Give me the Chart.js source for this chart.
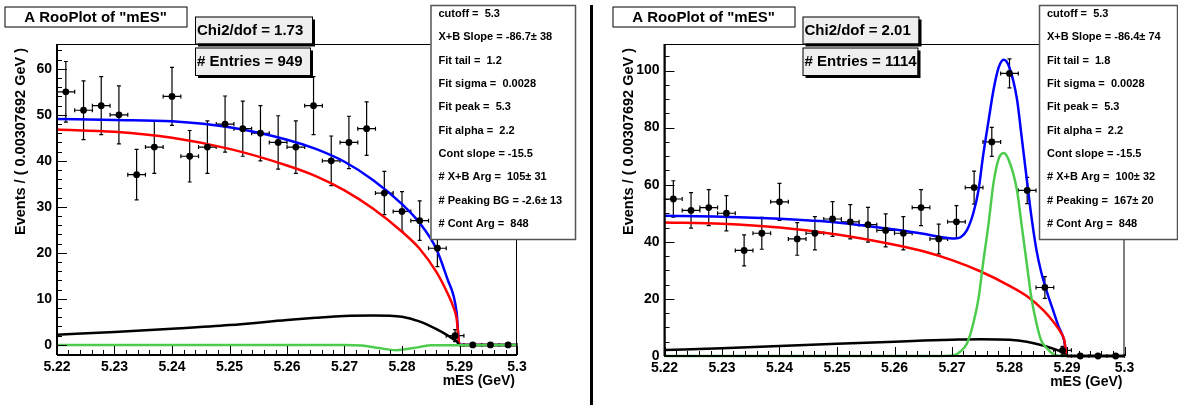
<!DOCTYPE html>
<html>
<head>
<meta charset="utf-8">
<script src="https://cdn.jsdelivr.net/npm/chart.js@4.4.0/dist/chart.umd.min.js"></script>
<style>
  body { margin: 0; background: #fff; width: 1178px; height: 405px; overflow: hidden; position: relative; }
  canvas { position: absolute; top: 0; }
  #chartL { left: 0; }
  #chartR { left: 590px; }
</style>
</head>
<body>
<canvas id="chartL" width="590" height="405"></canvas>
<canvas id="chartR" width="588" height="405"></canvas>
<script>
// binning of the mES histogram
const binStart = 5.22;
const binWidth = 0.00307692;

const xTickLabels = ['5.22', '5.23', '5.24', '5.25', '5.26', '5.27', '5.28', '5.29', '5.3'];
const yTickLabelsL = ['0', '10', '20', '30', '40', '50', '60'];
const yTickLabelsR = ['0', '20', '40', '60', '80', '100'];

// left plot: data points
const countsL = [55, 51, 52, 50, 37, 43, 54, 41, 43, 48, 47, 46, 44, 43, 52, 40, 44, 47, 33, 29, 27, 21, 2, 0, 0, 0];
const errorsL = [6.6, 6.4, 6.3, 6.3, 5.5, 5.7, 6.3, 5.6, 5.7, 6.1, 6.0, 6.0, 5.8, 5.7, 6.3, 5.4, 5.7, 5.8, 4.7, 4.3, 4.3, 4.0, 1.3, 0, 0, 0];

// left plot: fitted curves
const curveXL = [5.22, 5.23, 5.24, 5.25, 5.26, 5.265, 5.27, 5.275, 5.28, 5.283, 5.286, 5.288, 5.289, 5.2895, 5.29, 5.3];
const blueL  = [49.1, 48.9, 48.6, 47.3, 44.6, 42.6, 39.8, 35.8, 30.6, 26.6, 20.8, 14.0, 10.5, 7.0, 0, 0];
const redL   = [46.8, 46.3, 45.0, 42.6, 39.0, 36.7, 33.6, 29.6, 24.6, 21.0, 15.8, 11.0, 8.0, 5.8, 0, 0];
const blackL = [2.2, 2.8, 3.5, 4.3, 5.4, 5.9, 6.3, 6.4, 6.1, 5.1, 3.4, 2.0, 1.2, 0.8, 0, 0];
const greenXL = [5.22, 5.27, 5.273, 5.276, 5.279, 5.282, 5.285, 5.3];
const greenL  = [0, 0, -0.15, -0.7, -1.15, -0.7, -0.1, 0];

// right plot: data points
const countsR = [55, 51, 52, 50, 37, 43, 54, 41, 43, 48, 47, 46, 44, 43, 52, 41, 47, 59, 75, 99, 58, 24, 2, 0, 0, 0];
const errorsR = [6.4, 6.2, 6.3, 6.2, 5.4, 5.6, 6.5, 5.7, 5.8, 6.1, 6.0, 6.1, 5.8, 5.8, 6.3, 5.2, 5.7, 5.8, 5.1, 5.1, 4.6, 3.8, 1.4, 0, 0, 0];

// right plot: fitted curves
const curveXR = [5.22, 5.23, 5.24, 5.25, 5.26, 5.265, 5.27, 5.275, 5.28, 5.283, 5.286, 5.288, 5.289, 5.2895, 5.29, 5.3];
const redR   = [46.8, 46.3, 45.0, 42.6, 39.0, 36.7, 33.6, 29.6, 24.6, 21.0, 15.8, 11.0, 8.0, 5.8, 0, 0];
const blackR = [2.1, 2.7, 3.5, 4.3, 5.0, 5.4, 5.7, 5.9, 5.7, 5.0, 3.6, 2.3, 1.5, 1.0, 0, 0];
const blueXR = [5.22, 5.23, 5.24, 5.25, 5.26, 5.265, 5.268, 5.2705, 5.2715, 5.2726, 5.2737, 5.2746, 5.2754, 5.2764,
                5.2772, 5.2781, 5.279, 5.2799, 5.2813, 5.2821, 5.283, 5.2838, 5.2847, 5.2855, 5.2865, 5.2875, 5.2885, 5.2895, 5.29, 5.3];
const blueR  = [49.1, 48.8, 48.1, 46.8, 44.3, 42.8, 41.7, 41.2, 41.6, 44.1, 50.0, 58.0, 70.0, 83.0,
                93.0, 101.0, 103.8, 101.5, 90.0, 77.0, 62.0, 49.0, 37.0, 29.5, 22.5, 16.5, 10.5, 5.5, 0, 0];
const greenXR = [5.22, 5.268, 5.2705, 5.2714, 5.2726, 5.2737, 5.2746, 5.2754, 5.2764, 5.2772, 5.2781, 5.279,
                 5.2799, 5.2813, 5.2821, 5.283, 5.2838, 5.2847, 5.2855, 5.2865, 5.2875, 5.289, 5.3];
const greenR  = [0, 0, 0.4, 1.5, 4.4, 11.4, 20.0, 32.4, 47.0, 60.4, 69.0, 71.1,
                 68.5, 58.1, 46.0, 32.4, 20.5, 11.4, 5.5, 2.7, 0.8, 0, 0];

const paramsL = ['cutoff =  5.3', 'X+B Slope = -86.7\u00b1 38', 'Fit tail =  1.2', 'Fit sigma =  0.0028', 'Fit peak =  5.3',
                 'Fit alpha =  2.2', 'Cont slope = -15.5', '# X+B Arg =  105\u00b1 31', '# Peaking BG = -2.6\u00b1 13', '# Cont Arg =  848'];
const paramsR = ['cutoff =  5.3', 'X+B Slope = -86.4\u00b1 74', 'Fit tail =  1.8', 'Fit sigma =  0.0028', 'Fit peak =  5.3',
                 'Fit alpha =  2.2', 'Cont slope = -15.5', '# X+B Arg =  100\u00b1 32', '# Peaking =  167\u00b1 20', '# Cont Arg =  848'];

const FONT = '"Liberation Sans", Arial, Helvetica, sans-serif';

// ROOT-like frame, ticks, error bars and text boxes
const rooFrame = {
  id: 'rooFrame',
  beforeDatasetsDraw(chart, args, o) {
    const ctx = chart.ctx, xs = chart.scales.x, ys = chart.scales.y;
    ctx.save();
    ctx.strokeStyle = '#000';
    ctx.lineWidth = 1.2;
    o.counts.forEach((c, i) => {
      const xc = binStart + (i + 0.5) * binWidth;
      const px = xs.getPixelForValue(xc);
      const py = ys.getPixelForValue(c);
      const x0 = xs.getPixelForValue(xc - binWidth / 2);
      const x1 = xs.getPixelForValue(xc + binWidth / 2);
      ctx.beginPath();
      ctx.moveTo(x0, py); ctx.lineTo(x1, py);
      ctx.moveTo(x0, py - 2); ctx.lineTo(x0, py + 2);
      ctx.moveTo(x1, py - 2); ctx.lineTo(x1, py + 2);
      const e = o.errors[i];
      if (e > 0) {
        const yt = ys.getPixelForValue(c + e), yb = ys.getPixelForValue(c - e);
        ctx.moveTo(px, yt); ctx.lineTo(px, yb);
        ctx.moveTo(px - 2, yt); ctx.lineTo(px + 2, yt);
        ctx.moveTo(px - 2, yb); ctx.lineTo(px + 2, yb);
      }
      ctx.stroke();
    });
    ctx.restore();
  },
  afterDatasetsDraw(chart, args, o) {
    const ctx = chart.ctx, xs = chart.scales.x, ys = chart.scales.y, a = chart.chartArea;
    ctx.save();
    ctx.strokeStyle = '#000';
    ctx.lineWidth = 1;
    ctx.strokeRect(a.left + 0.5, a.top + 0.5, a.right - a.left - 1, a.bottom - a.top);
    ctx.lineWidth = 2;
    ctx.beginPath();
    ctx.moveTo(a.left, a.top); ctx.lineTo(a.left, a.bottom);
    ctx.moveTo(a.left, a.bottom); ctx.lineTo(a.right, a.bottom);
    ctx.stroke();

    // x ticks
    ctx.lineWidth = 1;
    ctx.beginPath();
    for (let k = 0; k <= 40; k++) {
      const px = Math.round(xs.getPixelForValue(5.22 + k * 0.002)) + 0.5;
      const len = k % 5 === 0 ? 9 : 5;
      ctx.moveTo(px, a.bottom); ctx.lineTo(px, a.bottom - len);
    }
    // y ticks
    for (let v = Math.ceil(o.yMin / o.yMinor) * o.yMinor; v <= o.yMax; v += o.yMinor) {
      const py = Math.round(ys.getPixelForValue(v)) + 0.5;
      const len = Math.abs(v % o.yMajor) < 1e-6 ? 10 : 5;
      ctx.moveTo(a.left, py); ctx.lineTo(a.left + len, py);
    }
    ctx.stroke();

    // tick labels
    ctx.fillStyle = '#000';
    ctx.font = 'bold 14px ' + FONT;
    ctx.textAlign = 'center';
    ctx.textBaseline = 'middle';
    xTickLabels.forEach(t => ctx.fillText(t, xs.getPixelForValue(parseFloat(t)), a.bottom + 12));
    ctx.textAlign = 'right';
    o.yLabels.forEach(t => ctx.fillText(t, a.left - 5, ys.getPixelForValue(parseFloat(t))));

    // axis titles
    ctx.fillText('mES (GeV)', a.right - 2, o.xTitleY);
    ctx.save();
    ctx.font = 'bold 14.5px ' + FONT;
    ctx.translate(o.yTitleX, a.top + 4);
    ctx.rotate(-Math.PI / 2);
    ctx.textAlign = 'right';
    ctx.fillText('Events / ( 0.00307692 GeV )', 0, 0);
    ctx.restore();

    // title box
    const tb = o.titleBox;
    ctx.fillStyle = '#fff';
    ctx.fillRect(tb.x, tb.y, tb.w, tb.h);
    ctx.lineWidth = 1;
    ctx.strokeRect(tb.x + 0.5, tb.y + 0.5, tb.w, tb.h);
    ctx.fillStyle = '#000';
    ctx.font = 'bold 15px ' + FONT;
    ctx.textAlign = 'center';
    ctx.fillText('A RooPlot of "mES"', tb.x + tb.w / 2, tb.y + tb.h / 2 + 1);

    // chi2 / entries boxes with shadow
    [[o.chi2Box, o.chi2Text], [o.entriesBox, o.entriesText]].forEach(([b, txt]) => {
      ctx.fillStyle = '#000';
      ctx.fillRect(b.x + 3, b.y + 3, b.w, b.h);
      ctx.fillStyle = '#efefef';
      ctx.fillRect(b.x, b.y, b.w, b.h);
      ctx.strokeStyle = '#000';
      ctx.strokeRect(b.x + 0.5, b.y + 0.5, b.w, b.h);
      ctx.fillStyle = '#000';
      ctx.font = 'bold 15px ' + FONT;
      ctx.textAlign = 'left';
      ctx.fillText(txt, b.x + 2, b.y + b.h / 2 + 1);
    });

    // parameter box
    const pb = o.paramBox;
    ctx.fillStyle = '#fff';
    ctx.fillRect(pb.x, pb.y, pb.w, pb.h);
    ctx.strokeStyle = '#555';
    ctx.lineWidth = 1.5;
    ctx.strokeRect(pb.x + 0.5, pb.y + 0.5, pb.w, pb.h);
    ctx.fillStyle = '#000';
    ctx.font = 'bold 11px ' + FONT;
    ctx.textAlign = 'left';
    o.params.forEach((t, i) => ctx.fillText(t, pb.x + 8, pb.y + 9 + i * 23.33));

    if (o.separator) {
      ctx.fillStyle = '#000';
      ctx.fillRect(0, 5, 3, 405);
    }
    ctx.restore();
  }
};

function toPoints(xArr, yArr) {
  return xArr.map((x, i) => ({ x: x, y: yArr[i] }));
}

function lineSet(data, color, order) {
  return {
    type: 'line', data: data, borderColor: color, borderWidth: 2.5, pointRadius: 0,
    cubicInterpolationMode: 'monotone', fill: false, order: order, clip: 4
  };
}

function makeChart(id, cfg) {
  const pts = cfg.counts.map((c, i) => ({ x: binStart + (i + 0.5) * binWidth, y: c }));
  return new Chart(document.getElementById(id), {
    type: 'scatter',
    data: {
      datasets: [
        { data: pts, pointRadius: 3.4, pointBackgroundColor: '#000', pointBorderWidth: 0, order: 0, clip: 4 },
        lineSet(toPoints(cfg.greenX, cfg.green), '#4ccc4c', 1),
        lineSet(toPoints(cfg.curveX, cfg.black), '#000000', 2),
        lineSet(toPoints(cfg.curveX, cfg.red), '#ff0000', 3),
        lineSet(toPoints(cfg.blueX, cfg.blue), '#0000ff', 4)
      ]
    },
    options: {
      responsive: false,
      animation: false,
      layout: { padding: cfg.padding, autoPadding: false },
      scales: {
        x: { type: 'linear', min: 5.22, max: 5.30, display: false },
        y: { type: 'linear', min: cfg.yMin, max: cfg.yMax, display: false }
      },
      plugins: { legend: { display: false }, tooltip: { enabled: false }, rooFrame: cfg }
    },
    plugins: [rooFrame]
  });
}

makeChart('chartL', {
  counts: countsL, errors: errorsL,
  curveX: curveXL, blueX: curveXL, blue: blueL, red: redL, black: blackL, greenX: greenXL, green: greenL,
  yMin: -2.2, yMax: 65.4, yMajor: 10, yMinor: 2, yLabels: yTickLabelsL,
  padding: { left: 57, top: 44, right: 73, bottom: 50 },
  xTitleY: 381, yTitleX: 21,
  titleBox: { x: 4.5, y: 6.5, w: 182, h: 20 },
  chi2Box: { x: 195, y: 16.5, w: 117, h: 27 }, chi2Text: 'Chi2/dof = 1.73',
  entriesBox: { x: 195, y: 47.5, w: 115, h: 27.5 }, entriesText: '# Entries = 949',
  paramBox: { x: 430.5, y: 5, w: 144.5, h: 234 }, params: paramsL,
  separator: false
});

makeChart('chartR', {
  counts: countsR, errors: errorsR,
  curveX: curveXR, blueX: blueXR, blue: blueR, red: redR, black: blackR, greenX: greenXR, green: greenR,
  yMin: 0, yMax: 109.3, yMajor: 20, yMinor: 5, yLabels: yTickLabelsR,
  padding: { left: 74.5, top: 44, right: 53.5, bottom: 49 },
  xTitleY: 382, yTitleX: 39,
  titleBox: { x: 22.5, y: 6.5, w: 182, h: 20 },
  chi2Box: { x: 212.5, y: 16.5, w: 116, h: 27 }, chi2Text: 'Chi2/dof = 2.01',
  entriesBox: { x: 212.5, y: 47.5, w: 115, h: 27.5 }, entriesText: '# Entries = 1114',
  paramBox: { x: 449, y: 5, w: 138, h: 234 }, params: paramsR,
  separator: true
});
</script>
</body>
</html>
